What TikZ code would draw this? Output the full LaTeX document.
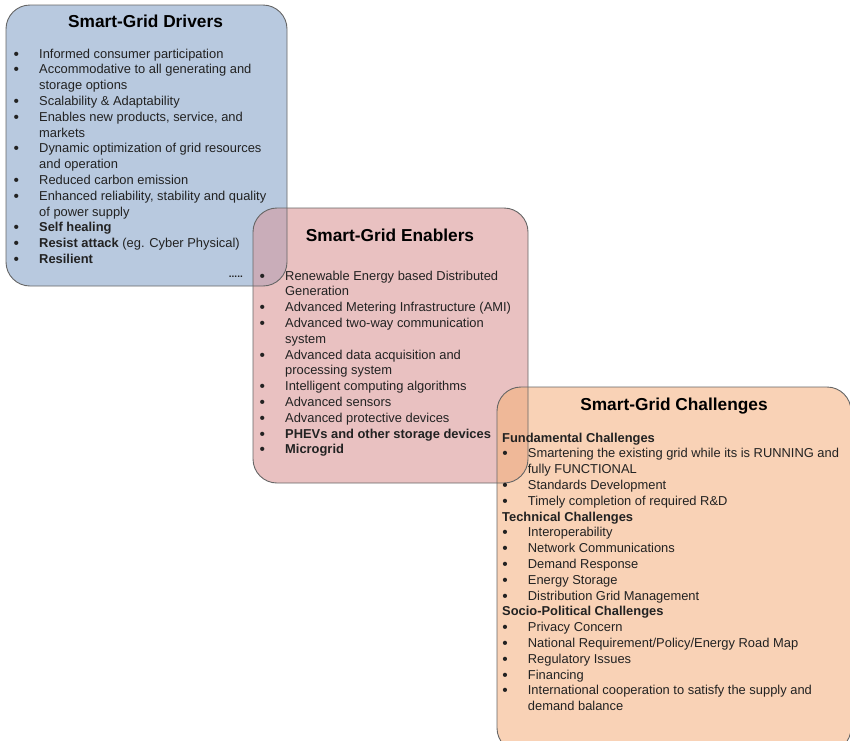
\documentclass[tikz,border=0pt]{standalone}
\usepackage{fontspec}
\setmainfont{Liberation Sans}
\definecolor{drvfill}{HTML}{B8C9DF}
\definecolor{enbfill}{HTML}{E9C1C1}
\definecolor{chlfill}{HTML}{F9D2B6}
\definecolor{drvenb}{HTML}{C9ADB9}
\definecolor{enbchl}{HTML}{EFB898}
\definecolor{edgegray}{HTML}{666666}
\definecolor{bodytext}{HTML}{222222}
% bullet hung in the left margin of a list line
\newcommand\bul{\llap{\makebox[25.6pt][l]{\raisebox{-1pt}{\fontsize{15.5}{15.8}\selectfont\textbullet}}}}
% bold group heading that starts left of the bullet column
\newcommand\grouphead[1]{\llap{\makebox[25.7pt][l]{\bfseries #1}}}
\begin{document}
\begin{tikzpicture}[x=1pt,y=-1pt,
  boxedge/.style={draw=edgegray, line width=0.9pt, rounded corners=24pt},
  boxtitle/.style={font=\fontsize{17.3}{20}\selectfont\bfseries, text=black, inner sep=0pt, anchor=base},
  itemlist/.style={font=\fontsize{12.9}{15.8}\selectfont, text=bodytext, inner sep=0pt, anchor=base west},
]
\useasboundingbox (0,0) rectangle (850,740);
\clip (0,0) rectangle (850,740);

% box outlines
\def\drvbox{(6,5) rectangle (287,286)}
\def\enbbox{(253,208) rectangle (528,483)}
\def\chlbox{(497,387) rectangle (851,752)}

% fills
\fill[drvfill, rounded corners=24pt] \drvbox;
\fill[enbfill, rounded corners=24pt] \enbbox;
\fill[chlfill, rounded corners=24pt] \chlbox;
\begin{scope}
  \clip[rounded corners=24pt] \drvbox;
  \fill[drvenb, rounded corners=24pt] \enbbox;
\end{scope}
\begin{scope}
  \clip[rounded corners=24pt] \enbbox;
  \fill[enbchl, rounded corners=24pt] \chlbox;
\end{scope}

% borders
\draw[boxedge] \drvbox;
\draw[boxedge] \enbbox;
\draw[boxedge] \chlbox;

% Smart-Grid Drivers
\node[boxtitle] (drvtitle) at (145.5,27) {Smart-Grid Drivers};
\node[itemlist] (drvlist) at (39,58) {\begin{tabular}[t]{@{}l@{}}
\bul Informed consumer participation\\
\bul Accommodative to all generating and\\
storage options\\
\bul Scalability \& Adaptability\\
\bul Enables new products, service, and\\
markets\\
\bul Dynamic optimization of grid resources\\
and operation\\
\bul Reduced carbon emission\\
\bul Enhanced reliability, stability and quality\\
of power supply\\
\bul \textbf{Self healing}\\
\bul \textbf{Resist attack} (eg. Cyber Physical)\\
\bul \textbf{Resilient}
\end{tabular}};
\node[font=\fontsize{10}{12}\selectfont\bfseries, text=bodytext, inner sep=0pt, anchor=base east] (drvmore) at (243,277) {.....};

% Smart-Grid Enablers
\node[boxtitle] (enbtitle) at (390,241.5) {Smart-Grid Enablers};
\node[itemlist] (enblist) at (285,280) {\begin{tabular}[t]{@{}l@{}}
\bul Renewable Energy based Distributed\\
Generation\\
\bul Advanced Metering Infrastructure (AMI)\\
\bul Advanced two-way communication\\
system\\
\bul Advanced data acquisition and\\
processing system\\
\bul Intelligent computing algorithms\\
\bul Advanced sensors\\
\bul Advanced protective devices\\
\bul \textbf{PHEVs and other storage devices}\\
\bul \textbf{Microgrid}
\end{tabular}};

% Smart-Grid Challenges
\node[boxtitle] (chltitle) at (674,410.7) {Smart-Grid Challenges};
\node[itemlist] (chllist) at (527.7,442) {\begin{tabular}[t]{@{}l@{}}
\grouphead{Fundamental Challenges}\\
\bul Smartening the existing grid while its is RUNNING and\\
fully FUNCTIONAL\\
\bul Standards Development\\
\bul Timely completion of required R\&D\\
\grouphead{Technical Challenges}\\
\bul Interoperability\\
\bul Network Communications\\
\bul Demand Response\\
\bul Energy Storage\\
\bul Distribution Grid Management\\
\grouphead{Socio-Political Challenges}\\
\bul Privacy Concern\\
\bul National Requirement/Policy/Energy Road Map\\
\bul Regulatory Issues\\
\bul Financing\\
\bul International cooperation to satisfy the supply and\\
demand balance
\end{tabular}};
\end{tikzpicture}
\end{document}
